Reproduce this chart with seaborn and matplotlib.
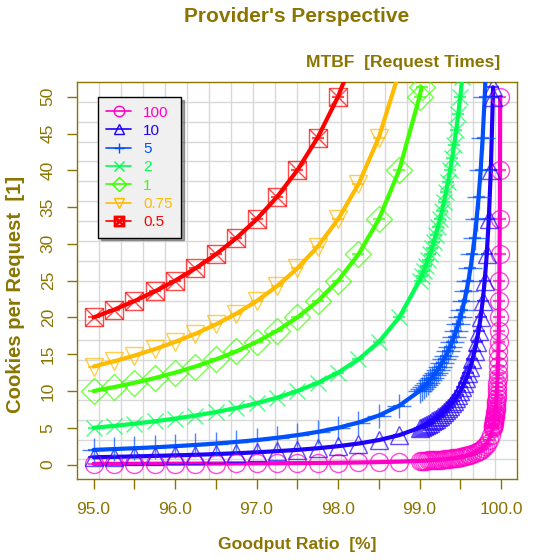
import matplotlib
matplotlib.use("Agg")
import matplotlib.pyplot as plt
from matplotlib.lines import Line2D
from matplotlib.colors import to_rgba
import seaborn as sns
import pandas as pd

sns.set_theme(style="white")
plt.rcParams['font.family'] = ['Liberation Sans', 'DejaVu Sans']

# ---- data ----
goodput_coarse = [95.0, 95.25, 95.5, 95.75, 96.0, 96.25, 96.5, 96.75, 97.0, 97.25,
                  97.5, 97.75, 98.0, 98.25, 98.5, 98.75, 99.0]
goodput_fine1 = [99.025, 99.05, 99.075, 99.1, 99.125, 99.15, 99.175, 99.2, 99.225, 99.25,
                 99.275, 99.3, 99.325, 99.35, 99.375, 99.4, 99.425, 99.45, 99.475, 99.5,
                 99.525, 99.55, 99.575, 99.6, 99.625, 99.65, 99.675, 99.7, 99.725, 99.75,
                 99.775, 99.8, 99.825, 99.85, 99.875, 99.9]
goodput_fine2 = [99.9025, 99.905, 99.9075, 99.91, 99.9125, 99.915, 99.9175, 99.92, 99.9225,
                 99.925, 99.9275, 99.93, 99.9325, 99.935, 99.9375, 99.94, 99.9425, 99.945,
                 99.9475, 99.95, 99.9525, 99.955, 99.9575, 99.96, 99.9625, 99.965, 99.9675,
                 99.97, 99.9725, 99.975, 99.9775, 99.98, 99.9825, 99.985, 99.9875, 99.99]
goodput = goodput_coarse + goodput_fine1 + goodput_fine2

mtbf_labels = ["100", "10", "5", "2", "1", "0.75", "0.5"]

cookies_100 = [0.1, 0.105, 0.111, 0.118, 0.125, 0.133, 0.143, 0.154, 0.167, 0.182,
               0.2, 0.222, 0.25, 0.286, 0.333, 0.4, 0.5,
               0.513, 0.526, 0.541, 0.556, 0.571, 0.588, 0.606, 0.625, 0.645, 0.667,
               0.690, 0.714, 0.741, 0.769, 0.8, 0.833, 0.870, 0.909, 0.952, 1.0,
               1.053, 1.111, 1.176, 1.25, 1.333, 1.429, 1.538, 1.667, 1.818, 2.0,
               2.222, 2.5, 2.857, 3.333, 4.0, 5.0,
               5.128, 5.263, 5.405, 5.556, 5.714, 5.882, 6.061, 6.25, 6.452, 6.667,
               6.897, 7.143, 7.407, 7.692, 8.0, 8.333, 8.696, 9.091, 9.524, 10.0,
               10.526, 11.111, 11.765, 12.5, 13.333, 14.286, 15.385, 16.667, 18.182, 20.0,
               22.222, 25.0, 28.571, 33.333, 40.0, 50.0]
cookies_10 = [1.0, 1.05, 1.11, 1.18, 1.25, 1.33, 1.43, 1.54, 1.67, 1.82,
              2.0, 2.22, 2.5, 2.86, 3.33, 4.0, 5.0,
              5.13, 5.26, 5.41, 5.56, 5.71, 5.88, 6.06, 6.25, 6.45, 6.67,
              6.90, 7.14, 7.41, 7.69, 8.0, 8.33, 8.70, 9.09, 9.52, 10.0,
              10.53, 11.11, 11.76, 12.5, 13.33, 14.29, 15.38, 16.67, 18.18, 20.0,
              22.22, 25.0, 28.57, 33.33, 40.0, 50.0, 51.28]
cookies_5 = [2.0, 2.11, 2.22, 2.35, 2.5, 2.67, 2.86, 3.08, 3.33, 3.64,
             4.0, 4.44, 5.0, 5.71, 6.67, 8.0, 10.0,
             10.26, 10.53, 10.81, 11.11, 11.43, 11.76, 12.12, 12.5, 12.90, 13.33,
             13.79, 14.29, 14.81, 15.38, 16.0, 16.67, 17.39, 18.18, 19.05, 20.0,
             21.05, 22.22, 23.53, 25.0, 26.67, 28.57, 30.77, 33.33, 36.36, 40.0,
             44.44, 50.0, 57.14]
cookies_2 = [5.0, 5.26, 5.56, 5.88, 6.25, 6.67, 7.14, 7.69, 8.33, 9.09,
             10.0, 11.11, 12.5, 14.29, 16.67, 20.0, 25.0,
             25.64, 26.32, 27.03, 27.78, 28.57, 29.41, 30.30, 31.25, 32.26, 33.33,
             34.48, 35.71, 37.04, 38.46, 40.0, 41.67, 43.48, 45.45, 47.62, 50.0, 52.63]
cookies_1 = [10.0, 10.53, 11.11, 11.76, 12.5, 13.33, 14.29, 15.38, 16.67, 18.18,
             20.0, 22.22, 25.0, 28.57, 33.33, 40.0, 50.0, 51.28]
cookies_075 = [13.33, 14.04, 14.81, 15.69, 16.67, 17.78, 19.05, 20.51, 22.22, 24.24,
               26.67, 29.63, 33.33, 38.10, 44.44, 53.33]
cookies_05 = [20.0, 21.05, 22.22, 23.53, 25.0, 26.67, 28.57, 30.77, 33.33, 36.36,
              40.0, 44.44, 50.0, 57.14]

series = [cookies_100, cookies_10, cookies_5, cookies_2, cookies_1, cookies_075, cookies_05]
colors = ["#FF00C8", "#1E00FF", "#0050FF", "#00FF50", "#3CFF00", "#FFBB00", "#FF0000"]
markers = ["o", "^", "+", "x", "D", "v", "s"]
msizes = [13, 13, 17, 12, 13, 13, 12.5]

olive = "#8B7500"

frames = []
for lab, ys in zip(mtbf_labels, series):
    frames.append(pd.DataFrame({"goodput": goodput[:len(ys)], "cookies": ys, "mtbf": lab}))
df = pd.concat(frames, ignore_index=True)

fig = plt.figure(figsize=(5.5, 5.6), dpi=100)
ax = fig.add_axes([77.3 / 550, 1 - 479.3 / 560, 440 / 550, 397.3 / 560])

ax.set_xlim(94.8, 100.2)
ax.set_ylim(-2, 52)

# R-style grid(20, 20)
for i in range(1, 20):
    ax.axvline(94.8 + 5.4 * i / 20, color="#D8D8D8", lw=1.0, zorder=0)
    ax.axhline(-2 + 54 * i / 20, color="#D8D8D8", lw=1.0, zorder=0)

for lab, col, mk, ms in zip(mtbf_labels, colors, markers, msizes):
    sub = df[df["mtbf"] == lab]
    mcol = to_rgba(col, 0.7)
    sns.lineplot(data=sub, x="goodput", y="cookies", ax=ax, color=col, lw=3.0,
                 sort=False, estimator=None, legend=False, zorder=3)
    sns.lineplot(data=sub, x="goodput", y="cookies", ax=ax, color=col, linestyle="none",
                 marker=mk, markersize=ms, markerfacecolor="none",
                 markeredgecolor=mcol, markeredgewidth=1.0,
                 sort=False, estimator=None, legend=False, zorder=4)
    if mk == "s":
        sns.lineplot(data=sub, x="goodput", y="cookies", ax=ax, color=col, linestyle="none",
                     marker="x", markersize=ms, markerfacecolor="none",
                     markeredgecolor=mcol, markeredgewidth=1.0,
                     sort=False, estimator=None, legend=False, zorder=4)
    sns.lineplot(data=sub, x="goodput", y="cookies", ax=ax, color=col, linestyle="none",
                 marker="_", markersize=8, markeredgecolor=mcol, markeredgewidth=1.6,
                 sort=False, estimator=None, legend=False, zorder=4)

ax.set_xlabel("")
ax.set_ylabel("")

xt = [95.0, 95.5, 96.0, 96.5, 97.0, 97.5, 98.0, 98.5, 99.0, 99.5, 100.0]
ax.set_xticks(xt)
ax.set_xticklabels([f"{v:.1f}" if v == int(v) else "" for v in xt])
yt = [0, 5, 10, 15, 20, 25, 30, 35, 40, 45, 50]
ax.set_yticks(yt)
ax.set_yticklabels([str(v) for v in yt], rotation=90, va="center")
ax.tick_params(axis="both", direction="out", length=7.5, width=1.0, color=olive,
               labelcolor=olive, labelsize=12.5, bottom=True, left=True)
ax.tick_params(axis="x", pad=9)
ax.tick_params(axis="y", pad=8)
for sp in ax.spines.values():
    sp.set_color(olive)
    sp.set_linewidth(1.0)
    sp.set_visible(True)

fig.text(297 / 550, 1 - 16 / 560, "Provider's Perspective", ha="center", va="center",
         color=olive, fontsize=15, fontweight="bold")
fig.text(500 / 550, 1 - 62 / 560, "MTBF  [Request Times]", ha="right", va="center",
         color=olive, fontsize=12.6, fontweight="bold")
fig.text(297 / 550, 1 - 545 / 560, "Goodput Ratio  [%]", ha="center", va="center",
         color=olive, fontsize=12.6, fontweight="bold")
fig.text(16 / 550, 1 - 294 / 560, "Cookies per Request  [1]", ha="center", va="center",
         rotation=90, color=olive, fontsize=14.6, fontweight="bold")

handles = []
for col, mk in zip(colors, markers):
    if mk == "s":
        mk = r"$\boxtimes$"
    handles.append(Line2D([0], [0], color=col, lw=1.2, marker=mk, markersize=7.5,
                          markerfacecolor="none", markeredgecolor=col, markeredgewidth=1.0))
leg = ax.legend(handles, mtbf_labels, loc="upper left", bbox_to_anchor=(0.047, 0.962),
                borderaxespad=0, frameon=True, fancybox=False, shadow=True,
                fontsize=11, handlelength=1.6, handletextpad=0.8, labelspacing=0.28,
                borderpad=0.55)
leg.get_frame().set_edgecolor("black")
leg.get_frame().set_facecolor("#F0F0F0")
leg.get_frame().set_linewidth(1.0)
leg.set_zorder(10)
for txt, col in zip(leg.get_texts(), colors):
    txt.set_color(col)

fig.savefig("out.png", dpi=100)
